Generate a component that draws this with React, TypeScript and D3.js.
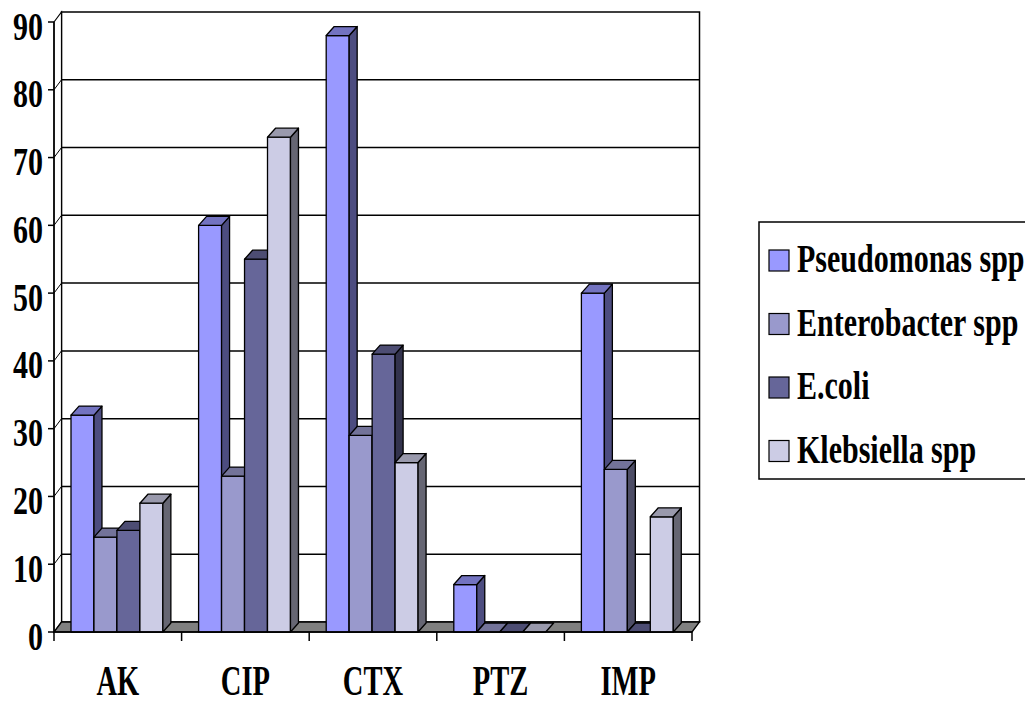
import React from "react";
import * as d3 from "d3";

const categories = ["AK", "CIP", "CTX", "PTZ", "IMP"];
const seriesNames = ["Pseudomonas spp", "Enterobacter spp", "E.coli", "Klebsiella spp"];
const pseudomonas = [32, 60, 88, 7, 50];
const enterobacter = [14, 23, 29, 0, 24];
const ecoli = [15, 55, 41, 0, 0];
const klebsiella = [19, 73, 25, 0, 17];
const yTicks = [0, 10, 20, 30, 40, 50, 60, 70, 80, 90];

const seriesValues = [pseudomonas, enterobacter, ecoli, klebsiella];
const faceColors = ["#9999FF", "#9999CC", "#666699", "#CCCCE5"];
const topColors = ["#7373C0", "#737399", "#4D4D73", "#9999AC"];
const sideColors = ["#4D4D80", "#4D4D66", "#33334D", "#666673"];

// plot frame (front plane) and depth offset to the back wall
const X0 = 54;
const X1 = 692;
const Y0 = 632;
const Y90 = 22;
const WALL_DX = 7.5;
const WALL_DY = -10;
const BAR_DX = 8;
const BAR_DY = -9;

const FONT = "Liberation Serif";

export default function App() {
  const x = d3.scaleBand<string>().domain(categories).range([X0, X1]).padding(0);
  const catW = x.bandwidth();
  const barW = catW * 0.18;
  const groupOffset = 17;
  const inner = d3
    .scaleBand<string>()
    .domain(seriesNames)
    .range([groupOffset, groupOffset + barW * 4])
    .padding(0);
  const y = d3.scaleLinear().domain([0, 90]).range([Y0, Y90]);

  const bx0 = X0 + WALL_DX;
  const bx1 = X1 + WALL_DX;

  const poly = (pts: [number, number][]) => pts.map((p) => p.join(",")).join(" ");

  const bars: React.ReactNode[] = [];
  categories.forEach((cat, ci) => {
    seriesNames.forEach((s, si) => {
      const v = seriesValues[si][ci];
      const left = (x(cat) as number) + (inner(s) as number);
      const w = inner.bandwidth();
      const top = y(v);
      const bottom = y(0);
      const key = `${ci}-${si}`;
      bars.push(
        <g key={key} stroke="#000" strokeWidth={1.3} strokeLinejoin="round">
          {v > 0 && (
            <rect x={left} y={top} width={w} height={bottom - top} fill={faceColors[si]} />
          )}
          {v > 0 && (
            <polygon
              points={poly([
                [left + w, top],
                [left + w + BAR_DX, top + BAR_DY],
                [left + w + BAR_DX, bottom + BAR_DY],
                [left + w, bottom],
              ])}
              fill={sideColors[si]}
            />
          )}
          <polygon
            points={poly([
              [left, top],
              [left + BAR_DX, top + BAR_DY],
              [left + w + BAR_DX, top + BAR_DY],
              [left + w, top],
            ])}
            fill={topColors[si]}
          />
        </g>
      );
    });
  });

  const legendBaseline = [272, 335.5, 399, 462.5];

  return (
    <svg
      width={1025}
      height={706}
      viewBox="0 0 1025 706"
      style={{ position: "absolute", left: 0, top: 0, background: "#fff" }}
    >
      {/* back wall */}
      <rect
        x={bx0}
        y={y(90) + WALL_DY}
        width={bx1 - bx0}
        height={y(0) - y(90)}
        fill="#fff"
        stroke="#000"
        strokeWidth={1.5}
      />
      {/* side wall */}
      <polygon
        points={poly([
          [X0, y(90)],
          [bx0, y(90) + WALL_DY],
          [bx0, y(0) + WALL_DY],
          [X0, y(0)],
        ])}
        fill="#fff"
        stroke="#000"
        strokeWidth={1.2}
      />
      {/* gridlines on the walls */}
      {yTicks
        .filter((t) => t > 0 && t < 90)
        .map((t) => (
          <g key={t} stroke="#000" strokeWidth={1.5}>
            <line x1={bx0} x2={bx1} y1={y(t) + WALL_DY} y2={y(t) + WALL_DY} />
            <line x1={X0} x2={bx0} y1={y(t)} y2={y(t) + WALL_DY} strokeWidth={1} />
          </g>
        ))}
      {/* floor */}
      <polygon
        points={poly([
          [X0, y(0)],
          [X1, y(0)],
          [bx1, y(0) + WALL_DY],
          [bx0, y(0) + WALL_DY],
        ])}
        fill="#808080"
        stroke="#000"
        strokeWidth={1.3}
      />
      {bars}
      {/* value axis */}
      <line x1={X0} x2={X0} y1={y(90)} y2={y(0)} stroke="#000" strokeWidth={1.5} />
      {yTicks.map((t) => (
        <g key={t}>
          <line x1={X0 - 6} x2={X0} y1={y(t)} y2={y(t)} stroke="#000" strokeWidth={1.5} />
          <text
            transform={`translate(43,${y(t) + 17.5}) scale(0.75,1)`}
            textAnchor="end"
            fontFamily={FONT}
            fontWeight="bold"
            fontSize={40}
            fill="#000"
          >
            {t}
          </text>
        </g>
      ))}
      {/* category axis */}
      <line x1={X0} x2={X1} y1={y(0)} y2={y(0)} stroke="#000" strokeWidth={1.5} />
      {d3.range(categories.length + 1).map((i) => {
        const tx = X0 + i * catW;
        return (
          <line key={i} x1={tx} x2={tx} y1={y(0)} y2={y(0) + 9} stroke="#000" strokeWidth={1.5} />
        );
      })}
      {categories.map((c) => (
        <text
          key={c}
          transform={`translate(${(x(c) as number) + catW / 2},695) scale(0.68,1)`}
          textAnchor="middle"
          fontFamily={FONT}
          fontWeight="bold"
          fontSize={42}
          fill="#000"
        >
          {c}
        </text>
      ))}
      {/* legend */}
      <rect x={759} y={222} width={280} height={257} fill="#fff" stroke="#000" strokeWidth={1.5} />
      {seriesNames.map((s, i) => (
        <g key={s}>
          <rect
            x={769}
            y={legendBaseline[i] - 22}
            width={20}
            height={21}
            fill={faceColors[i]}
            stroke="#000"
            strokeWidth={1.2}
          />
          <text
            transform={`translate(797,${legendBaseline[i]}) scale(0.75,1)`}
            fontFamily={FONT}
            fontWeight="bold"
            fontSize={40}
            fill="#000"
          >
            {s}
          </text>
        </g>
      ))}
    </svg>
  );
}
